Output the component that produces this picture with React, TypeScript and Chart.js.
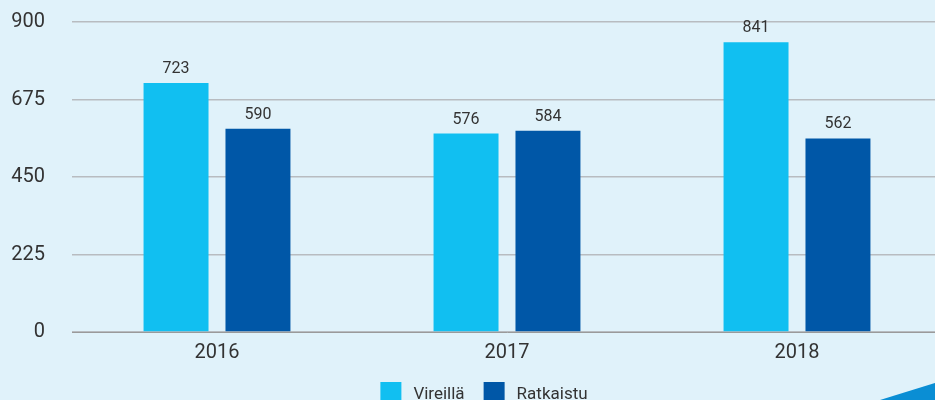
import React, { useEffect, useRef } from "react";
import { Chart, registerables } from "chart.js";

Chart.register(...registerables);

const categories = ["2016", "2017", "2018"];
const vireilla = [723, 576, 841];
const ratkaistu = [590, 584, 562];
const seriesNames = ["Vireillä", "Ratkaistu"];
const seriesColors = ["#11bff1", "#0057a7"];
const yTicks = [0, 225, 450, 675, 900];

const FONT = "Roboto, 'Noto Sans', sans-serif";

const valueLabels = {
  id: "valueLabels",
  afterDatasetsDraw(chart: any) {
    const ctx = chart.ctx;
    ctx.save();
    ctx.font = `16px ${FONT}`;
    ctx.fillStyle = "#333333";
    ctx.textAlign = "center";
    ctx.textBaseline = "bottom";
    chart.data.datasets.forEach((ds: any, di: number) => {
      const meta = chart.getDatasetMeta(di);
      meta.data.forEach((el: any, i: number) => {
        ctx.fillText(String(ds.data[i]), el.x, el.y - 6);
      });
    });
    ctx.restore();
  },
};

const bottomLegend = {
  id: "bottomLegend",
  afterDraw(chart: any) {
    const ctx = chart.ctx;
    ctx.save();
    ctx.font = `17px ${FONT}`;
    const box = 21;
    const textGap = 33;
    const itemGap = 19;
    const items = chart.data.datasets.map((ds: any) => ({
      label: ds.label,
      color: ds.backgroundColor,
      w: ctx.measureText(ds.label).width,
    }));
    const total =
      items.reduce((s: number, it: any) => s + textGap + it.w, 0) + itemGap * (items.length - 1);
    let x = chart.width / 2 - total / 2;
    const top = chart.chartArea.bottom + 50;
    items.forEach((it: any) => {
      ctx.fillStyle = it.color;
      ctx.fillRect(x, top, box, box);
      ctx.fillStyle = "#333333";
      ctx.textAlign = "left";
      ctx.textBaseline = "alphabetic";
      ctx.fillText(it.label, x + textGap, top + 16.5);
      x += textGap + it.w + itemGap;
    });
    ctx.restore();
  },
};

const corner = {
  id: "corner",
  afterDraw(chart: any) {
    const ctx = chart.ctx;
    const w = chart.width;
    const h = chart.height;
    ctx.save();
    ctx.fillStyle = "#0a8ed4";
    ctx.beginPath();
    ctx.moveTo(880, 400);
    ctx.lineTo(w, 400 - (w - 880) * 0.309);
    ctx.lineTo(w, h);
    ctx.lineTo(880, h);
    ctx.closePath();
    ctx.fill();
    ctx.restore();
  },
};

export default function App() {
  const ref = useRef<HTMLCanvasElement>(null);
  useEffect(() => {
    if (!ref.current) return;
    const chart = new Chart(ref.current, {
      type: "bar",
      data: {
        labels: categories,
        datasets: [
          {
            label: seriesNames[0],
            data: vireilla,
            backgroundColor: seriesColors[0],
            barPercentage: 0.793,
            categoryPercentage: 0.565,
          },
          {
            label: seriesNames[1],
            data: ratkaistu,
            backgroundColor: seriesColors[1],
            barPercentage: 0.793,
            categoryPercentage: 0.565,
          },
        ],
      },
      options: {
        responsive: false,
        animation: false,
        devicePixelRatio: 1,
        layout: { padding: { top: 22, right: 26, left: 0, bottom: 26 } },
        plugins: {
          tooltip: { enabled: false },
          legend: { display: false },
        },
        scales: {
          x: {
            grid: { display: false, drawTicks: false },
            border: { display: true, color: "#9a9a9a", width: 1 },
            ticks: {
              color: "#333333",
              font: { family: FONT, size: 20 },
              padding: 9,
            },
          },
          y: {
            min: 0,
            max: 900,
            afterBuildTicks(axis: any) {
              axis.ticks = yTicks.map((v) => ({ value: v }));
            },
            afterFit(axis: any) {
              axis.width = 72;
            },
            grid: {
              color: "#b8bcc0",
              drawTicks: true,
              tickLength: 27,
              tickColor: "rgba(0,0,0,0)",
              lineWidth: 1.5,
            },
            border: { display: false },
            ticks: {
              color: "#333333",
              font: { family: FONT, size: 20 },
              padding: 0,
            },
          },
        },
      },
      plugins: [valueLabels, bottomLegend, corner],
    });
    return () => chart.destroy();
  }, []);
  return (
    <div
      style={{
        position: "absolute",
        left: 0,
        top: 0,
        width: 935,
        height: 400,
        overflow: "hidden",
        background: "#e0f2fa",
      }}
    >
      <canvas ref={ref} width={968} height={400} style={{ width: 968, height: 400, display: "block" }} />
    </div>
  );
}
